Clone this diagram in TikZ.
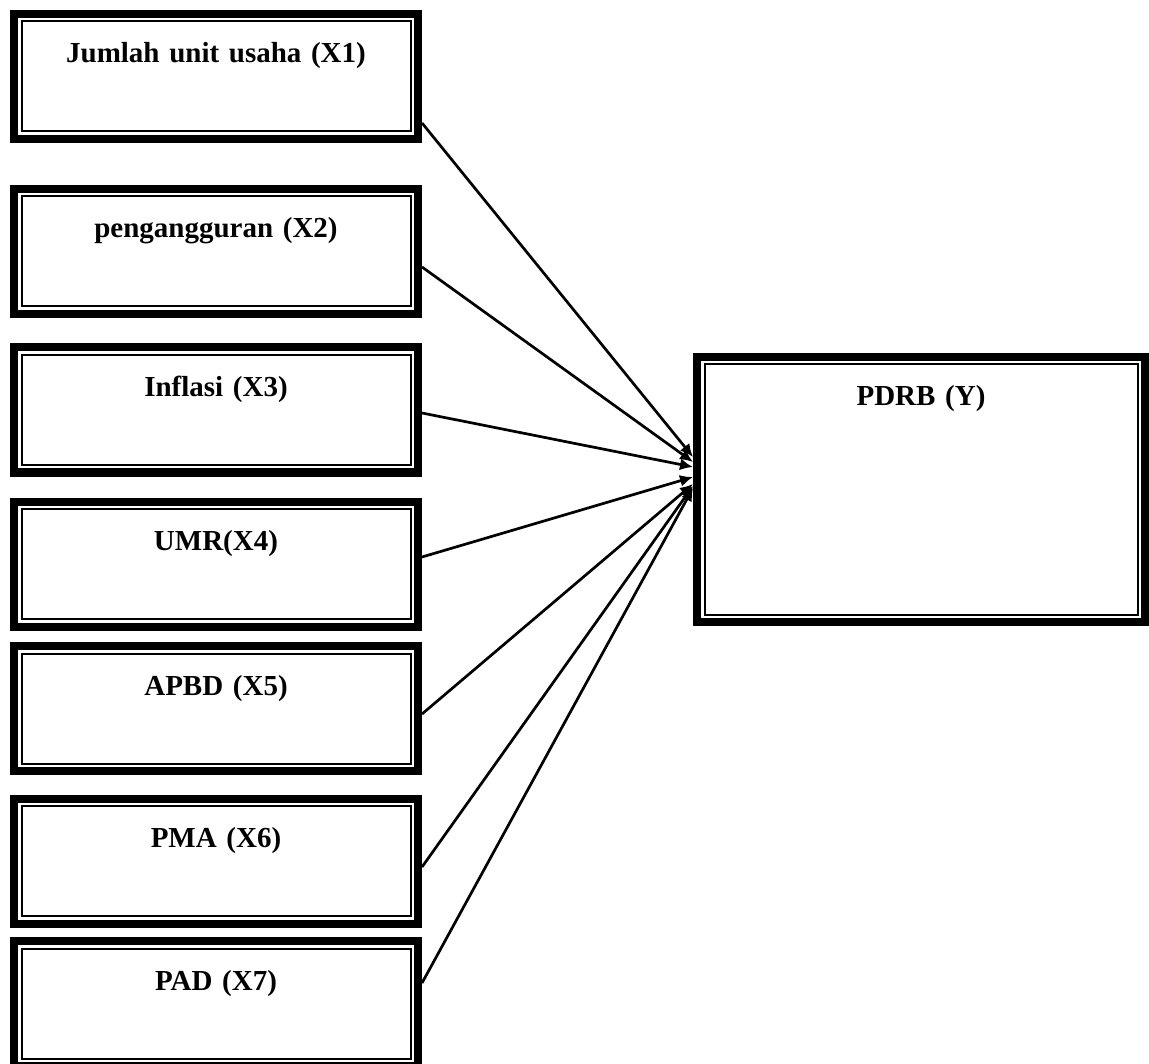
\documentclass[tikz,border=0pt]{standalone}
\usepackage{fontspec}
\setmainfont{Liberation Serif}
\usetikzlibrary{arrows.meta,positioning}
\tikzset{
    var box/.style={draw, line width=8pt, inner sep=0pt, align=center,
        font=\bfseries\fontsize{29}{34}\selectfont, text height=49pt,
        path picture={\draw[line width=2pt]
            ([shift={(7.5pt,-7.5pt)}]path picture bounding box.north west) rectangle
            ([shift={(-7.5pt,7.5pt)}]path picture bounding box.south east);}},
    x box/.style={var box, text width=404pt, text depth=76pt},
    y box/.style={var box, text width=448pt, text depth=216pt},
    link/.style={line width=2.7pt, -{Latex[length=13pt,width=12pt]}}
}

\begin{document}
\begin{tikzpicture}[x=1pt,y=-1pt]
	\useasboundingbox (0,0) rectangle (1149,1064);
		% independent variables
		\node[x box] (x1) at (216,76.5) {Jumlah unit usaha (X1)};
		\node[x box] (x2) at (216,251.5) {pengangguran (X2)};
		\node[x box] (x3) at (216,410) {Inflasi (X3)};
		\node[x box] (x4) at (216,564) {UMR(X4)};
		\node[x box] (x5) at (216,708.5) {APBD (X5)};
		\node[x box] (x6) at (216,861) {PMA (X6)};
		\node[x box] (x7) at (216,1003.5) {PAD (X7)};
		% dependent variable
		\node[y box] (y) at (921,489.5) {PDRB (Y)};
		% links
		\draw[link] ([yshift=-46.5pt]x1.east) -- ([yshift=32.5pt]y.west);
		\draw[link] ([yshift=-15.5pt]x2.east) -- ([yshift=27.5pt]y.west);
		\draw[link] ([yshift=-3pt]x3.east) -- ([yshift=22.5pt]y.west);
		\draw[link] ([yshift=7pt]x4.east) -- ([yshift=12.5pt]y.west);
		\draw[link] ([yshift=-5.5pt]x5.east) -- ([yshift=5.5pt]y.west);
		\draw[link] ([yshift=-6pt]x6.east) -- ([yshift=3.5pt]y.west);
		\draw[link] ([yshift=20.5pt]x7.east) -- ([yshift=1.5pt]y.west);
\end{tikzpicture}
\end{document}
